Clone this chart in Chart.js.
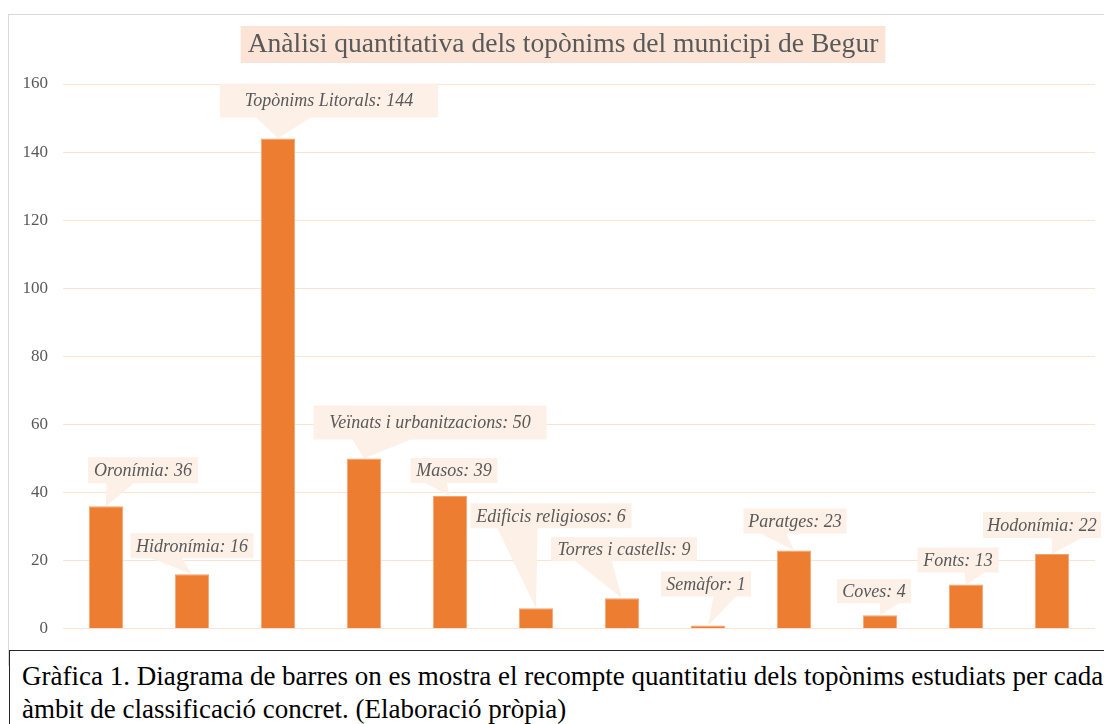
<!DOCTYPE html>
<html lang="ca">
<head>
<meta charset="UTF-8">
<title>Anàlisi quantitativa dels topònims del municipi de Begur</title>
<script src="https://cdn.jsdelivr.net/npm/chart.js@4.4.0/dist/chart.umd.min.js"></script>
<style>
  html, body {
    margin: 0;
    padding: 0;
    width: 1104px;
    height: 724px;
    overflow: hidden;
    background: #ffffff;
  }
  .frame {
    position: absolute;
    left: 8px;
    top: 14px;
    width: 1120px;
    height: 650px;
    border: 1px solid #d9d9d9;
  }
  .chart-box {
    position: absolute;
    left: 0;
    top: 0;
    width: 1104px;
    height: 654px;
  }
  .caption {
    position: absolute;
    left: 9px;
    top: 650px;
    width: 1120px;
    height: 100px;
    border: 1.5px solid #262626;
    background: #ffffff;
    font-family: "Liberation Serif", "Times New Roman", serif;
    font-size: 27px;
    line-height: 33px;
    color: #000000;
    padding: 9px 0 0 12px;
    box-sizing: border-box;
    white-space: nowrap;
  }
</style>
</head>
<body>
  <div class="frame"></div>
  <div class="chart-box"><canvas id="toponimsChart"></canvas></div>
  <div class="caption">Gràfica 1. Diagrama de barres on es mostra el recompte quantitatiu dels topònims estudiats per cada<br>àmbit de classificació concret. (Elaboració pròpia)</div>

<script>
  var chartTitle = 'Anàlisi quantitativa dels topònims del municipi de Begur';
  var categories = ['Oronímia', 'Hidronímia', 'Topònims Litorals', 'Veïnats i urbanitzacions', 'Masos',
    'Edificis religiosos', 'Torres i castells', 'Semàfor', 'Paratges', 'Coves', 'Fonts', 'Hodonímia'];
  var counts = [36, 16, 144, 50, 39, 6, 9, 1, 23, 4, 13, 22];
  var yTicks = [0, 20, 40, 60, 80, 100, 120, 140, 160];

  // callout boxes: [x shift from bar, gap above bar top, width, height]
  var calloutLayout = [
    [37, 23, 110, 26], [0, 16, 123, 25], [51, 21, 218, 34], [66, 19, 233, 34],
    [4, 13, 87, 25], [15, 80, 161, 25], [2, 37, 146, 24], [-2, 29, 90, 25],
    [1, 17, 103, 25], [-6, 12, 74, 24], [-8, 12, 81, 25], [-10, 16, 118, 26]
  ];

  var serif = '"Liberation Serif", "Times New Roman", serif';
  var textGrey = '#595959';

  var calloutPlugin = {
    id: 'callouts',
    afterDraw: function (chart) {
      var ctx = chart.ctx;
      ctx.save();

      // title with its shaded box
      ctx.font = '27.6px ' + serif;
      var tw = ctx.measureText(chartTitle).width;
      var tcx = 563;
      ctx.fillStyle = '#fbe4d6';
      ctx.fillRect(tcx - tw / 2 - 7, 26, tw + 14, 37);
      ctx.fillStyle = textGrey;
      ctx.textAlign = 'center';
      ctx.textBaseline = 'middle';
      ctx.fillText(chartTitle, tcx, 45);

      var meta = chart.getDatasetMeta(0);
      ctx.font = 'italic 18px ' + serif;
      meta.data.forEach(function (bar, i) {
        var lay = calloutLayout[i];
        var cx = bar.x + lay[0];
        var bottom = bar.y - lay[1];
        var w = lay[2], h = lay[3];
        var left = cx - w / 2, right = cx + w / 2, top = bottom - h;
        var b1, b2;
        if (bar.x > cx) {
          b1 = left + w * 7 / 12; b2 = left + w * 10 / 12;
        } else {
          b1 = left + w * 2 / 12; b2 = left + w * 5 / 12;
        }
        ctx.beginPath();
        ctx.moveTo(left, top);
        ctx.lineTo(right, top);
        ctx.lineTo(right, bottom);
        ctx.lineTo(b2, bottom);
        ctx.lineTo(bar.x, bar.y);
        ctx.lineTo(b1, bottom);
        ctx.lineTo(left, bottom);
        ctx.closePath();
        ctx.fillStyle = '#fdf0e7';
        ctx.fill();
        ctx.fillStyle = textGrey;
        ctx.fillText(categories[i] + ': ' + counts[i], cx, top + h / 2 + 1);
      });
      ctx.restore();
    }
  };

  var ctx = document.getElementById('toponimsChart').getContext('2d');
  var toponimsChart = new Chart(ctx, {
    type: 'bar',
    data: {
      labels: categories,
      datasets: [{
        label: 'Topònims',
        data: counts,
        backgroundColor: '#ed7d31',
        borderColor: '#f3a46e',
        borderWidth: 1,
        categoryPercentage: 1,
        barPercentage: 0.4
      }]
    },
    options: {
      responsive: true,
      maintainAspectRatio: false,
      animation: false,
      layout: {
        padding: { top: 84, right: 9, bottom: 0, left: 0 }
      },
      plugins: {
        legend: { display: false },
        tooltip: { enabled: false },
        title: { display: false }
      },
      scales: {
        x: {
          display: false
        },
        y: {
          min: 0,
          max: 160,
          afterFit: function (scale) { scale.width = 63; },
          afterBuildTicks: function (scale) {
            scale.ticks = yTicks.map(function (v) { return { value: v }; });
          },
          border: { display: false },
          grid: {
            color: '#fbe3d4',
            lineWidth: 1,
            drawTicks: false
          },
          ticks: {
            padding: 15,
            color: textGrey,
            font: { family: serif, size: 17 }
          }
        }
      }
    },
    plugins: [calloutPlugin]
  });
</script>
</body>
</html>
